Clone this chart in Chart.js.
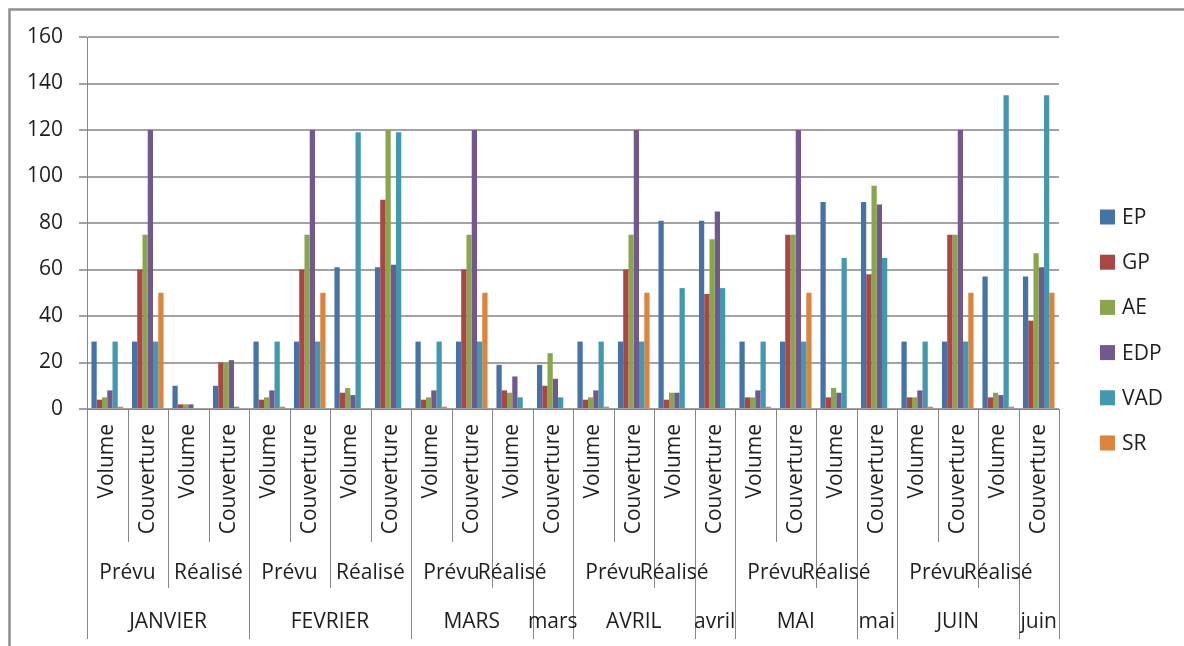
<!DOCTYPE html>
<html>
<head>
<meta charset="utf-8">
<script src="https://cdn.jsdelivr.net/npm/chart.js@4.4.1/dist/chart.umd.min.js"></script>
<style>
  html, body { margin: 0; padding: 0; background: #ffffff; }
  canvas { display: block; }
</style>
</head>
<body>
<canvas id="chart" width="1184" height="646"></canvas>
<script>
// Series names and colours
const seriesNames = ['EP', 'GP', 'AE', 'EDP', 'VAD', 'SR'];
const seriesColors = ['#4572A7', '#AA4643', '#89A54E', '#71588F', '#4198AF', '#DB843D'];

// First level of the category axis (one entry per bar group)
const measureLabels = [
  'Volume', 'Couverture', 'Volume', 'Couverture',
  'Volume', 'Couverture', 'Volume', 'Couverture',
  'Volume', 'Couverture', 'Volume', 'Couverture',
  'Volume', 'Couverture', 'Volume', 'Couverture',
  'Volume', 'Couverture', 'Volume', 'Couverture',
  'Volume', 'Couverture', 'Volume', 'Couverture'
];

// Second level: [label, number of categories covered]
const phaseGroups = [
  ['Prévu', 2], ['Réalisé', 2],
  ['Prévu', 2], ['Réalisé', 2],
  ['Prévu', 2], ['Réalisé', 1], ['', 1],
  ['Prévu', 2], ['Réalisé', 1], ['', 1],
  ['Prévu', 2], ['Réalisé', 1], ['', 1],
  ['Prévu', 2], ['Réalisé', 1], ['', 1]
];

// Third level: [label, number of categories covered]
const monthGroups = [
  ['JANVIER', 4], ['FEVRIER', 4],
  ['MARS', 3], ['mars', 1],
  ['AVRIL', 3], ['avril', 1],
  ['MAI', 3], ['mai', 1],
  ['JUIN', 3], ['juin', 1]
];

// Values per series
const EP  = [29, 29, 10, 10,  29, 29, 61, 61,   29, 29, 19, 19,  29, 29, 81, 81,   29, 29, 89, 89,  29, 29, 57, 57];
const GP  = [4, 60, 2, 20,    4, 60, 7, 90,     4, 60, 8, 10,    4, 60, 4, 49.5,   5, 75, 5, 58,    5, 75, 5, 38];
const AE  = [5, 75, 2, 20,    5, 75, 9, 120,    5, 75, 7, 24,    5, 75, 7, 73,     5, 75, 9, 96,    5, 75, 7, 67];
const EDP = [8, 120, 2, 21,   8, 120, 6, 62,    8, 120, 14, 13,  8, 120, 7, 85,    8, 120, 7, 88,   8, 120, 6, 61];
const VAD = [29, 29, 0, 1,    29, 29, 119, 119, 29, 29, 5, 5,    29, 29, 52, 52,   29, 29, 65, 65,  29, 29, 135, 135];
const SR  = [1, 50, 0, 0,     1, 50, 0, 0,      1, 50, 0, 0,     1, 50, 0, 0,      1, 50, 0, 0,     1, 50, 1, 50];

// Value axis
const yMin = 0, yMax = 160, yStep = 20;

const seriesValues = [EP, GP, AE, EDP, VAD, SR];

const FONT = "'Open Sans', sans-serif";
const TEXT_COLOR = '#1e1e1e';
const AXIS_COLOR = '#868686';
const GRID_COLOR = '#a2a2a2';

// Frame around the chart (left and top edges)
const frame = {
  id: 'frame',
  beforeDraw(chart) {
    const ctx = chart.ctx;
    ctx.save();
    ctx.fillStyle = '#ffffff';
    ctx.fillRect(0, 0, chart.width, chart.height);
    ctx.strokeStyle = '#8f8f8f';
    ctx.lineWidth = 2.5;
    ctx.beginPath();
    ctx.moveTo(9.5, chart.height);
    ctx.lineTo(9.5, 9.5);
    ctx.lineTo(chart.width, 9.5);
    ctx.stroke();
    ctx.restore();
  }
};

// Multi-level category labels and separators under the x axis
function edgesOf(groups) {
  const set = new Set([0]);
  let acc = 0;
  groups.forEach(g => { acc += g[1]; set.add(acc); });
  return set;
}

const categoryTree = {
  id: 'categoryTree',
  afterDraw(chart) {
    const { ctx, chartArea } = chart;
    const x = chart.scales.x;
    const n = measureLabels.length;
    const step = x.getPixelForValue(1) - x.getPixelForValue(0);
    const edge = i => x.getPixelForValue(i) - step / 2;
    const y0 = chartArea.bottom;
    const yShort = y0 + 133, yMid = y0 + 179, yLong = y0 + 230;
    const monthEdges = edgesOf(monthGroups);
    const phaseEdges = edgesOf(phaseGroups);

    ctx.save();
    ctx.strokeStyle = AXIS_COLOR;
    ctx.lineWidth = 1;
    for (let i = 0; i <= n; i++) {
      const px = Math.round(edge(i)) + 0.5;
      const end = monthEdges.has(i) ? yLong : (phaseEdges.has(i) ? yMid : yShort);
      ctx.beginPath();
      ctx.moveTo(px, y0);
      ctx.lineTo(px, end);
      ctx.stroke();
    }

    ctx.fillStyle = TEXT_COLOR;
    ctx.font = '21px ' + FONT;
    ctx.textAlign = 'center';
    ctx.textBaseline = 'middle';
    let acc = 0;
    phaseGroups.forEach(([label, span]) => {
      const cx = (edge(acc) + edge(acc + span)) / 2;
      if (label) ctx.fillText(label, cx, y0 + 164);
      acc += span;
    });
    acc = 0;
    monthGroups.forEach(([label, span]) => {
      const cx = (edge(acc) + edge(acc + span)) / 2;
      ctx.fillText(label, cx, y0 + 213);
      acc += span;
    });
    ctx.restore();
  }
};

// Legend on the right
const sideLegend = {
  id: 'sideLegend',
  afterDraw(chart) {
    const ctx = chart.ctx;
    ctx.save();
    ctx.font = '21px ' + FONT;
    ctx.textAlign = 'left';
    ctx.textBaseline = 'middle';
    chart.data.datasets.forEach((ds, k) => {
      const cy = 217 + k * 45.2;
      ctx.fillStyle = ds.backgroundColor;
      ctx.fillRect(1100, cy - 7.5, 15, 15);
      ctx.fillStyle = TEXT_COLOR;
      ctx.fillText(ds.label, 1122, cy + 1);
    });
    ctx.restore();
  }
};

new Chart(document.getElementById('chart'), {
  type: 'bar',
  data: {
    labels: measureLabels,
    datasets: seriesNames.map((name, k) => ({
      label: name,
      data: seriesValues[k],
      backgroundColor: seriesColors[k],
      borderWidth: 0,
      categoryPercentage: 0.78,
      barPercentage: 1.0
    }))
  },
  options: {
    responsive: false,
    animation: false,
    devicePixelRatio: 1,
    layout: { padding: { left: 0, top: 37, right: 125, bottom: 0 } },
    plugins: {
      legend: { display: false },
      tooltip: { enabled: false }
    },
    scales: {
      x: {
        grid: { display: false, drawTicks: false },
        border: { display: true, color: AXIS_COLOR, width: 1 },
        ticks: {
          autoSkip: false,
          minRotation: 90,
          maxRotation: 90,
          padding: 15,
          color: TEXT_COLOR,
          font: { family: FONT, size: 21 }
        },
        afterFit(scale) { scale.height = 237; }
      },
      y: {
        min: yMin,
        max: yMax,
        ticks: {
          stepSize: yStep,
          padding: 16,
          color: TEXT_COLOR,
          font: { family: FONT, size: 21 }
        },
        grid: { color: GRID_COLOR, lineWidth: 2, tickLength: 8, drawTicks: true },
        border: { display: true, color: AXIS_COLOR, width: 1 },
        afterFit(scale) { scale.width = 87; }
      }
    }
  },
  plugins: [frame, categoryTree, sideLegend]
});
</script>
</body>
</html>
